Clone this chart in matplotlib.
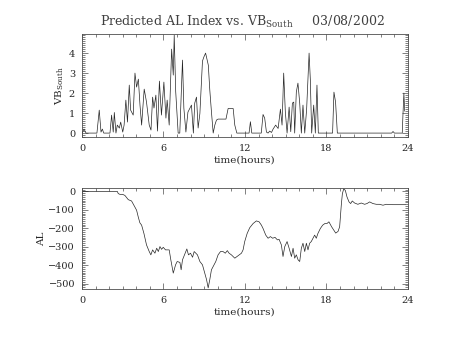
import matplotlib
matplotlib.use("Agg")
import matplotlib.pyplot as plt
import numpy as np
from matplotlib.ticker import MultipleLocator

plt.rcParams["font.family"] = "DejaVu Serif"
plt.rcParams["mathtext.fontset"] = "dejavuserif"

# VB_south, hours / value
vb_t = [0.0, 0.15, 0.3, 1.1, 1.27, 1.4, 1.5, 1.6, 2.06, 2.18, 2.3, 2.38, 2.5,
        2.6, 2.75, 2.85, 3.0, 3.1, 3.23, 3.35, 3.48, 3.58, 3.77, 3.9, 4.02,
        4.15, 4.27, 4.39, 4.58, 4.75, 4.95, 5.08, 5.2, 5.3, 5.44, 5.56, 5.7,
        5.85, 6.03, 6.18, 6.27, 6.42, 6.6, 6.72, 6.79, 6.9, 7.08, 7.2, 7.4,
        7.5, 7.65, 7.8, 8.06, 8.2, 8.3, 8.43, 8.55, 8.68, 8.87, 8.97, 9.1,
        9.3, 9.41, 9.53, 9.66, 9.78, 9.9, 10.02, 10.6, 10.76, 11.13, 11.25,
        11.4, 12.3, 12.4, 12.5, 13.2, 13.33, 13.45, 13.58, 13.7, 13.82, 13.95,
        14.07, 14.26, 14.44, 14.61, 14.73, 14.85, 14.97, 15.1, 15.25, 15.37,
        15.49, 15.59, 15.66, 15.78, 15.9, 16.03, 16.15, 16.27, 16.4, 16.54,
        16.72, 16.81, 16.91, 17.06, 17.18, 17.3, 17.4, 17.5, 18.45, 18.55,
        18.67, 18.8, 22.8, 22.9, 23.0, 23.58, 23.63, 23.7, 23.76]
vb_v = [0.0, 0.2, 0.0, 0.0, 1.15, 0.05, 0.2, 0.0, 0.0, 0.9, 0.05, 1.03, 0.0,
        0.4, 0.25, 0.55, 0.05, 0.4, 1.65, 0.55, 2.4, 1.15, 0.9, 3.0, 2.3,
        2.7, 1.4, 0.4, 2.2, 1.55, 0.4, 0.15, 1.8, 1.25, 1.9, 0.1, 2.6, 0.9,
        2.55, 0.75, 1.65, 0.4, 4.2, 2.9, 4.9, 2.07, 0.0, 0.0, 3.65, 1.25,
        0.05, 1.05, 1.4, 0.0, 1.5, 1.8, 0.25, 0.98, 3.6, 3.8, 4.0, 3.4, 2.15,
        1.07, 0.0, 0.4, 0.65, 0.7, 0.7, 1.23, 1.23, 0.4, 0.0, 0.0, 0.57, 0.0,
        0.0, 0.93, 0.75, 0.05, 0.0, 0.1, 0.03, 0.2, 0.4, 0.23, 1.2, 0.4, 3.0,
        1.07, 0.0, 1.3, 0.07, 1.5, 1.55, 0.0, 2.05, 2.5, 1.5, 0.0, 1.4, 0.0,
        1.2, 4.0, 2.7, 0.0, 1.4, 0.0, 2.4, 0.0, 0.0, 0.0, 2.05, 1.55, 0.0, 0.0,
        0.08, 0.0, 0.0, 0.9, 2.0, 1.1]

# AL index (bottom panel), hours / nT
al_t = [0.0, 2.6, 2.67, 2.79, 2.99, 3.16, 3.41, 3.65, 3.82, 4.02, 4.14,
        4.26, 4.39, 4.56, 4.75, 4.95, 5.07, 5.2, 5.37, 5.5, 5.62, 5.74, 5.86,
        5.98, 6.15, 6.42, 6.54, 6.72, 6.89, 7.01, 7.21, 7.3, 7.4, 7.55, 7.72,
        7.84, 7.99, 8.14, 8.26, 8.5, 8.68, 8.87, 9.04, 9.17, 9.29, 9.41, 9.53,
        9.66, 9.85, 10.02, 10.2, 10.38, 10.55, 10.7, 10.83, 11.0, 11.25,
        11.49, 11.74, 11.86, 11.98, 12.16, 12.35, 12.6, 12.84, 13.04, 13.21,
        13.33, 13.53, 13.7, 13.87, 14.04, 14.21, 14.39, 14.51, 14.68, 14.8,
        14.93, 15.1, 15.25, 15.42, 15.54, 15.66, 15.78, 15.91, 16.03, 16.15,
        16.27, 16.4, 16.52, 16.64, 16.76, 16.88, 17.01, 17.13, 17.25, 17.37,
        17.55, 17.72, 17.89, 18.04, 18.18, 18.38, 18.68, 18.85, 18.97, 19.09,
        19.17, 19.27, 19.39, 19.51, 19.66, 19.78, 19.9, 20.07, 20.31, 20.56,
        20.81, 20.98, 21.18, 21.42, 21.67, 21.91, 22.16, 22.4, 22.89, 23.38,
        23.82]
al_v = [0, 0, -12, -16, -16, -22, -45, -52, -75, -102, -138, -170, -183,
        -228, -290, -326, -344, -317, -335, -308, -326, -299, -314, -303,
        -317, -317, -371, -443, -398, -380, -385, -425, -371, -344, -312,
        -344, -335, -357, -326, -344, -380, -398, -443, -478, -523, -478,
        -425, -407, -380, -344, -326, -326, -335, -321, -335, -344, -362,
        -349, -335, -317, -272, -228, -197, -174, -160, -165, -183, -201,
        -237, -254, -245, -254, -249, -263, -260, -290, -353, -299, -272,
        -308, -353, -308, -362, -344, -371, -380, -308, -281, -326, -281,
        -317, -281, -272, -254, -237, -254, -228, -201, -183, -174, -174,
        -165, -192, -226, -217, -192, -75, -13, 14, 5, -30, -57, -66, -52,
        -63, -70, -63, -70, -66, -57, -66, -70, -70, -75, -70, -72, -72, -72]

fig = plt.figure(figsize=(4.54, 3.41), dpi=100)
ax1 = fig.add_axes([0.1806, 0.598, 0.718, 0.302])
ax2 = fig.add_axes([0.1806, 0.1525, 0.718, 0.296])

ax1.plot(vb_t, vb_v, color="0.15", lw=0.5)
ax2.plot(al_t, al_v, color="0.15", lw=0.5)

ax1.set_ylim(-0.2, 4.95)
ax2.set_ylim(-529, 18)
ax1.yaxis.set_major_locator(MultipleLocator(1))
ax1.yaxis.set_minor_locator(MultipleLocator(0.1))
ax2.yaxis.set_major_locator(MultipleLocator(100))
ax2.yaxis.set_minor_locator(MultipleLocator(10))

for ax in (ax1, ax2):
    ax.set_xlim(0, 24)
    ax.xaxis.set_major_locator(MultipleLocator(6))
    ax.xaxis.set_minor_locator(MultipleLocator(1))
    ax.tick_params(which="both", direction="in", top=True, right=True,
                   labelsize=7, width=0.5, color="0.3", labelcolor="0.15")
    ax.tick_params(which="major", length=4, pad=5)
    ax.tick_params(which="minor", length=2)
    ax.set_xlabel("time(hours)", fontsize=7.5, labelpad=2, color="0.15")
    for s in ax.spines.values():
        s.set_linewidth(0.6)
        s.set_color("0.3")

ax1.set_ylabel(r"VB$_{\rm South}$", fontsize=7.5, labelpad=2, color="0.15")
ax2.set_ylabel("AL", fontsize=7.5, labelpad=2, color="0.15")

fig.text(0.533, 0.935, r"Predicted AL Index vs. VB$_{\rm South}$     03/08/2002",
         ha="center", va="center", fontsize=9, color="0.25")

fig.savefig("out.png", dpi=100)
